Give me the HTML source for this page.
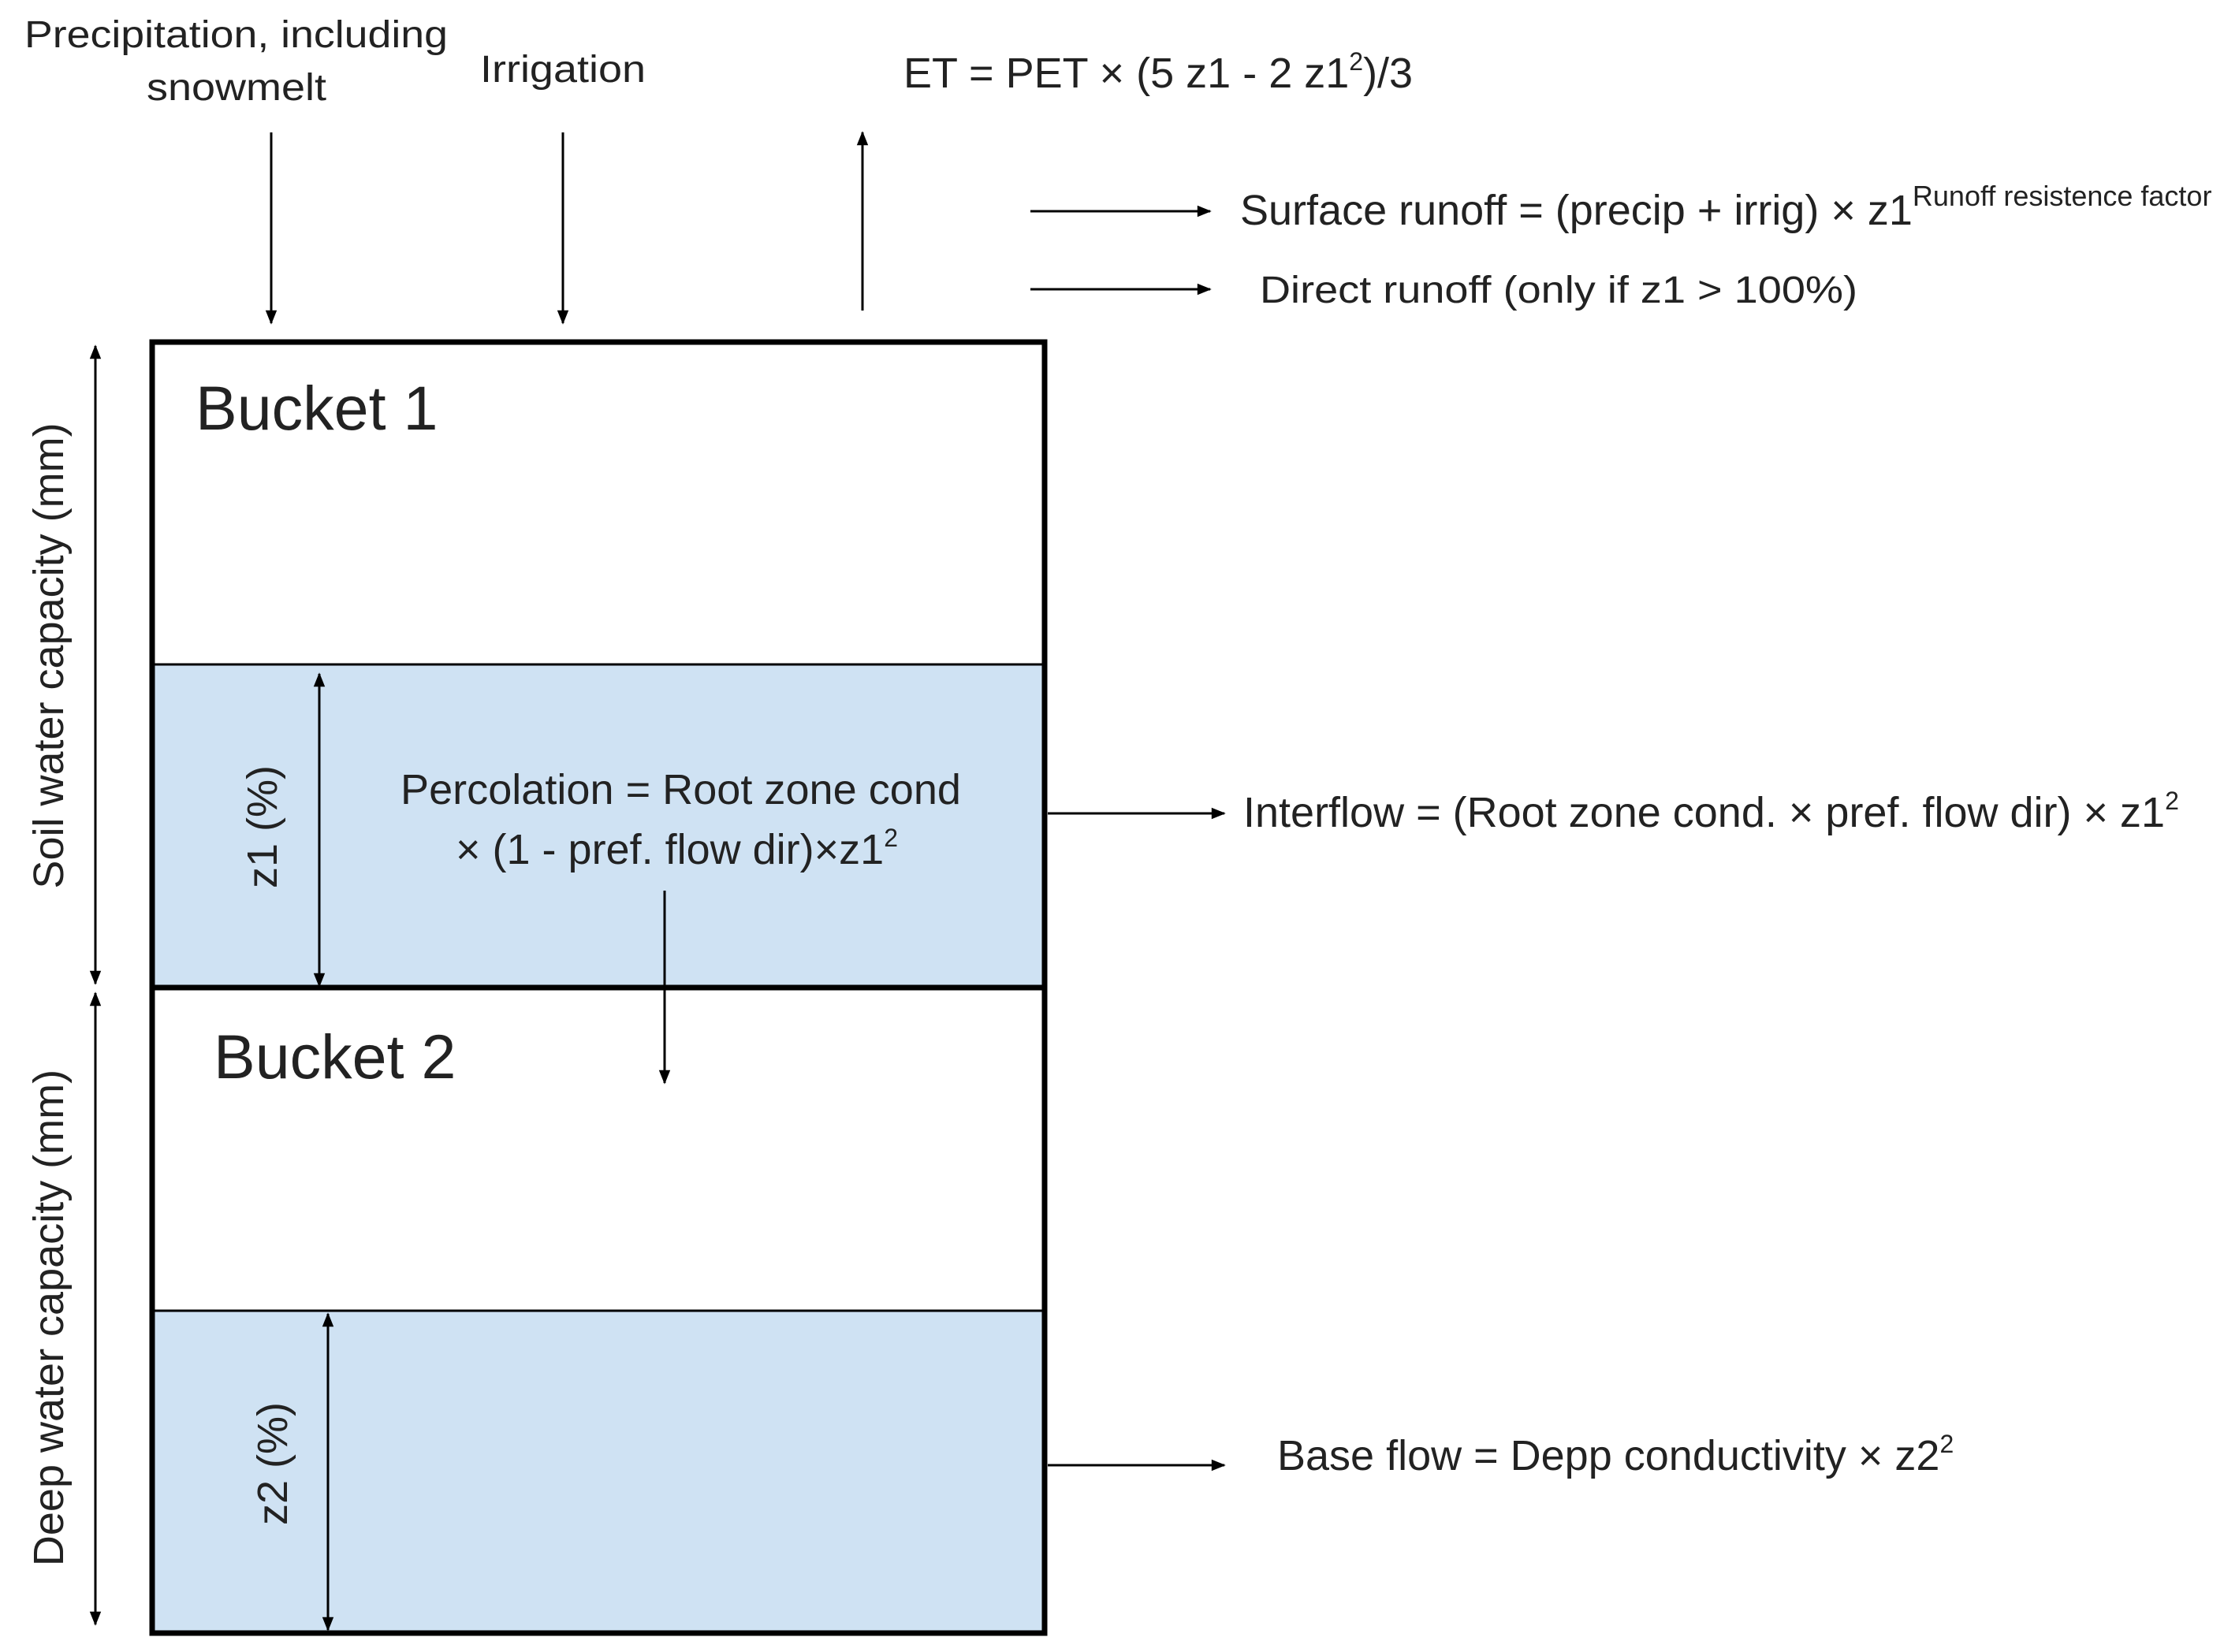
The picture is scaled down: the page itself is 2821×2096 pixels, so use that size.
<!DOCTYPE html>
<html><head><meta charset="utf-8"><style>
html,body{margin:0;padding:0;background:#fff;}
svg{display:block;}
text{font-family:"Liberation Sans",Arial,sans-serif;fill:#222;}
</style></head><body>
<svg width="2821" height="2096" viewBox="0 0 2821 2096" xmlns="http://www.w3.org/2000/svg">
<defs>
<marker id="ah" viewBox="0 0 10 10" refX="9" refY="5" markerWidth="7" markerHeight="6" orient="auto-start-reverse" markerUnits="strokeWidth">
<path d="M0,1 L10,5 L0,9 z" fill="#000"/>
</marker>
</defs>
<rect x="193" y="843" width="1132" height="410" fill="#cfe2f3"/>
<rect x="193" y="1663" width="1132" height="411" fill="#cfe2f3"/>
<line x1="193" y1="843" x2="1325" y2="843" stroke="#000" stroke-width="3"/>
<line x1="193" y1="1663" x2="1325" y2="1663" stroke="#000" stroke-width="3"/>
<line x1="193" y1="1253" x2="1325" y2="1253" stroke="#000" stroke-width="7"/>
<rect x="193" y="434" width="1132" height="1638" fill="none" stroke="#000" stroke-width="7"/>

<g stroke="#000" stroke-width="3" fill="none">
<line x1="344" y1="168" x2="344" y2="410" marker-end="url(#ah)"/>
<line x1="714" y1="168" x2="714" y2="410" marker-end="url(#ah)"/>
<line x1="1094" y1="394" x2="1094" y2="168" marker-end="url(#ah)"/>
<line x1="1307" y1="268" x2="1535" y2="268" marker-end="url(#ah)"/>
<line x1="1307" y1="367" x2="1535" y2="367" marker-end="url(#ah)"/>
<line x1="121" y1="439" x2="121" y2="1248" marker-start="url(#ah)" marker-end="url(#ah)"/>
<line x1="121" y1="1260" x2="121" y2="2061" marker-start="url(#ah)" marker-end="url(#ah)"/>
<line x1="405" y1="855" x2="405" y2="1251" marker-start="url(#ah)" marker-end="url(#ah)"/>
<line x1="416" y1="1667" x2="416" y2="2068" marker-start="url(#ah)" marker-end="url(#ah)"/>
<line x1="843" y1="1130" x2="843" y2="1374" marker-end="url(#ah)"/>
<line x1="1329" y1="1032" x2="1553" y2="1032" marker-end="url(#ah)"/>
<line x1="1329" y1="1859" x2="1553" y2="1859" marker-end="url(#ah)"/>
</g>

<g font-size="54">
<text x="31" y="60" font-size="48" textLength="537" lengthAdjust="spacingAndGlyphs">Precipitation, including</text>
<text x="186" y="127" font-size="48" textLength="228" lengthAdjust="spacingAndGlyphs">snowmelt</text>
<text x="609" y="104" font-size="48" textLength="210" lengthAdjust="spacingAndGlyphs">Irrigation</text>
<text x="1146" y="111">ET = PET × (5 z1 - 2 z1<tspan font-size="32" dy="-22">2</tspan><tspan dy="22">)/3</tspan></text>
<text x="1573" y="285">Surface runoff = (precip + irrig) × z1<tspan font-size="36" dy="-24">Runoff resistence factor</tspan></text>
<text x="1598" y="384" font-size="48" textLength="758" lengthAdjust="spacingAndGlyphs">Direct runoff (only if z1 &gt; 100%)</text>
<text x="1577" y="1049">Interflow = (Root zone cond. × pref. flow dir) × z1<tspan font-size="32" dy="-22">2</tspan></text>
<text x="508" y="1020" textLength="711" lengthAdjust="spacingAndGlyphs">Percolation = Root zone cond</text>
<text x="578" y="1096">× (1 - pref. flow dir)×z1<tspan font-size="32" dy="-22">2</tspan></text>
<text x="1620" y="1865">Base flow = Depp conductivity × z2<tspan font-size="32" dy="-22">2</tspan></text>
<text transform="translate(80,832) rotate(-90)" text-anchor="middle">Soil water capacity (mm)</text>
<text transform="translate(80,1672) rotate(-90)" text-anchor="middle">Deep water capacity (mm)</text>
<text transform="translate(351,1049) rotate(-90)" text-anchor="middle">z1 (%)</text>
<text transform="translate(364,1857) rotate(-90)" text-anchor="middle">z2 (%)</text>
</g>
<text x="248" y="545" font-size="79" fill="#111">Bucket 1</text>
<text x="271" y="1368" font-size="79" fill="#111">Bucket 2</text>
</svg>
</body></html>
